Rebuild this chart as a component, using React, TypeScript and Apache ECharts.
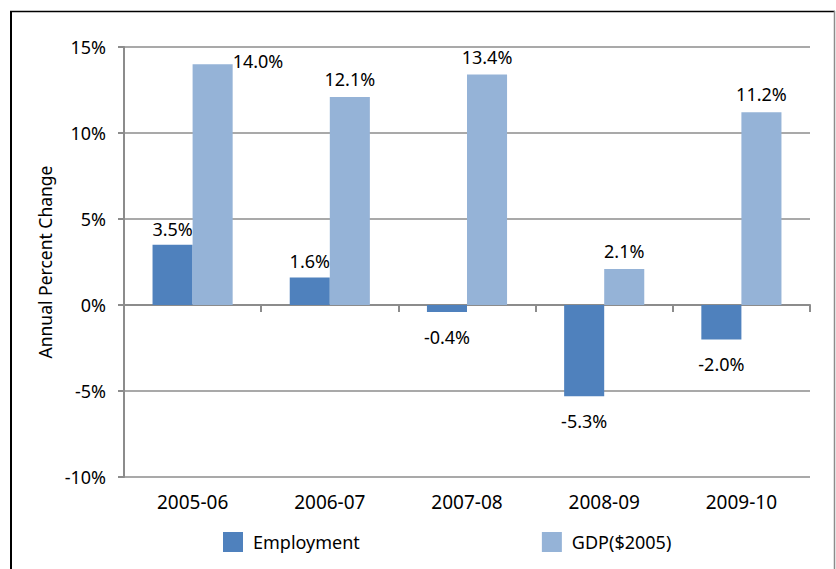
import React, { useEffect, useRef } from "react";
import * as echarts from "echarts";

const categories = ["2005-06", "2006-07", "2007-08", "2008-09", "2009-10"];
const employment = [3.5, 1.6, -0.4, -5.3, -2.0];
const gdp = [14.0, 12.1, 13.4, 2.1, 11.2];
const yTicks = { min: -10, max: 15, interval: 5 };
const seriesNames = ["Employment", "GDP($2005)"];

const FONT = "Noto Sans";
const AXIS_GRAY = "#8c8c8c";

export default function App() {
  const ref = useRef<HTMLDivElement>(null);
  useEffect(() => {
    if (!ref.current) return;
    const chart = echarts.init(ref.current, undefined, { renderer: "svg" });
    const fmt = (p: any) => `${Number(p.value).toFixed(1)}%`;
    const empData = employment.map((v) => ({
      value: v,
      label: v < 0 ? { position: "bottom", distance: 16 } : { position: "top", distance: 7 },
    }));
    const gdpData = gdp.map((v, i) => {
      if (i === 0) {
        return {
          value: v,
          label: { position: ["100%", -3], align: "left", verticalAlign: "middle" },
        };
      }
      return { value: v, label: { position: "top", distance: 9 } };
    });
    chart.setOption({
      animation: false,
      textStyle: { fontFamily: FONT },
      grid: { left: 124, right: 26, top: 47, bottom: 92, containLabel: false },
      legend: {
        bottom: 12,
        left: 218,
        itemWidth: 20,
        itemHeight: 20,
        itemGap: 182,
        icon: "rect",
        textStyle: { fontSize: 18, color: "#000", fontFamily: FONT, padding: [0, 0, 0, 5] },
        data: seriesNames,
      },
      xAxis: [
        {
          type: "category",
          data: categories,
          axisLine: { onZero: true, lineStyle: { color: AXIS_GRAY, width: 2 } },
          axisTick: { show: true, length: 7, lineStyle: { color: AXIS_GRAY, width: 2 } },
          axisLabel: { show: false },
        },
        {
          type: "category",
          data: categories,
          position: "bottom",
          axisLine: { show: false, onZero: false },
          axisTick: { show: false },
          axisLabel: { show: true, fontSize: 19, color: "#000", fontFamily: FONT, margin: 15 },
        },
      ],
      yAxis: {
        type: "value",
        min: yTicks.min,
        max: yTicks.max,
        interval: yTicks.interval,
        name: "Annual Percent Change",
        nameLocation: "middle",
        nameGap: 66,
        nameTextStyle: { fontSize: 17.5, color: "#000", fontFamily: FONT },
        axisLine: { show: true, lineStyle: { color: AXIS_GRAY, width: 2 } },
        axisTick: { show: true, length: 6, lineStyle: { color: AXIS_GRAY, width: 2 } },
        axisLabel: {
          formatter: "{value}%",
          fontSize: 18,
          color: "#000",
          fontFamily: FONT,
          margin: 18,
        },
        splitLine: { show: true, lineStyle: { color: AXIS_GRAY, width: 1.5 } },
      },
      series: [
        {
          name: seriesNames[0],
          type: "bar",
          xAxisIndex: 0,
          data: empData,
          itemStyle: { color: "#4F81BD" },
          barGap: "0%",
          barCategoryGap: "41.6%",
          label: { show: true, formatter: fmt, fontSize: 18, color: "#000", fontFamily: FONT },
        },
        {
          name: seriesNames[1],
          type: "bar",
          xAxisIndex: 0,
          data: gdpData,
          itemStyle: { color: "#95B3D7" },
          barGap: "0%",
          barCategoryGap: "41.6%",
          label: { show: true, formatter: fmt, fontSize: 18, color: "#000", fontFamily: FONT },
        },
      ],
      graphic: [
        { type: "line", shape: { x1: 11, y1: 11, x2: 11, y2: 569 }, style: { stroke: "#000", lineWidth: 2 } },
        { type: "line", shape: { x1: 10, y1: 11.5, x2: 835, y2: 11.5 }, style: { stroke: "#000", lineWidth: 1.5 } },
        { type: "line", shape: { x1: 834.5, y1: 11, x2: 834.5, y2: 569 }, style: { stroke: "#8c8c8c", lineWidth: 1.5 } },
      ],
    });
    return () => chart.dispose();
  }, []);
  return (
    <div
      ref={ref}
      style={{ position: "fixed", left: 0, top: 0, width: 836, height: 569, background: "#fff" }}
    />
  );
}
